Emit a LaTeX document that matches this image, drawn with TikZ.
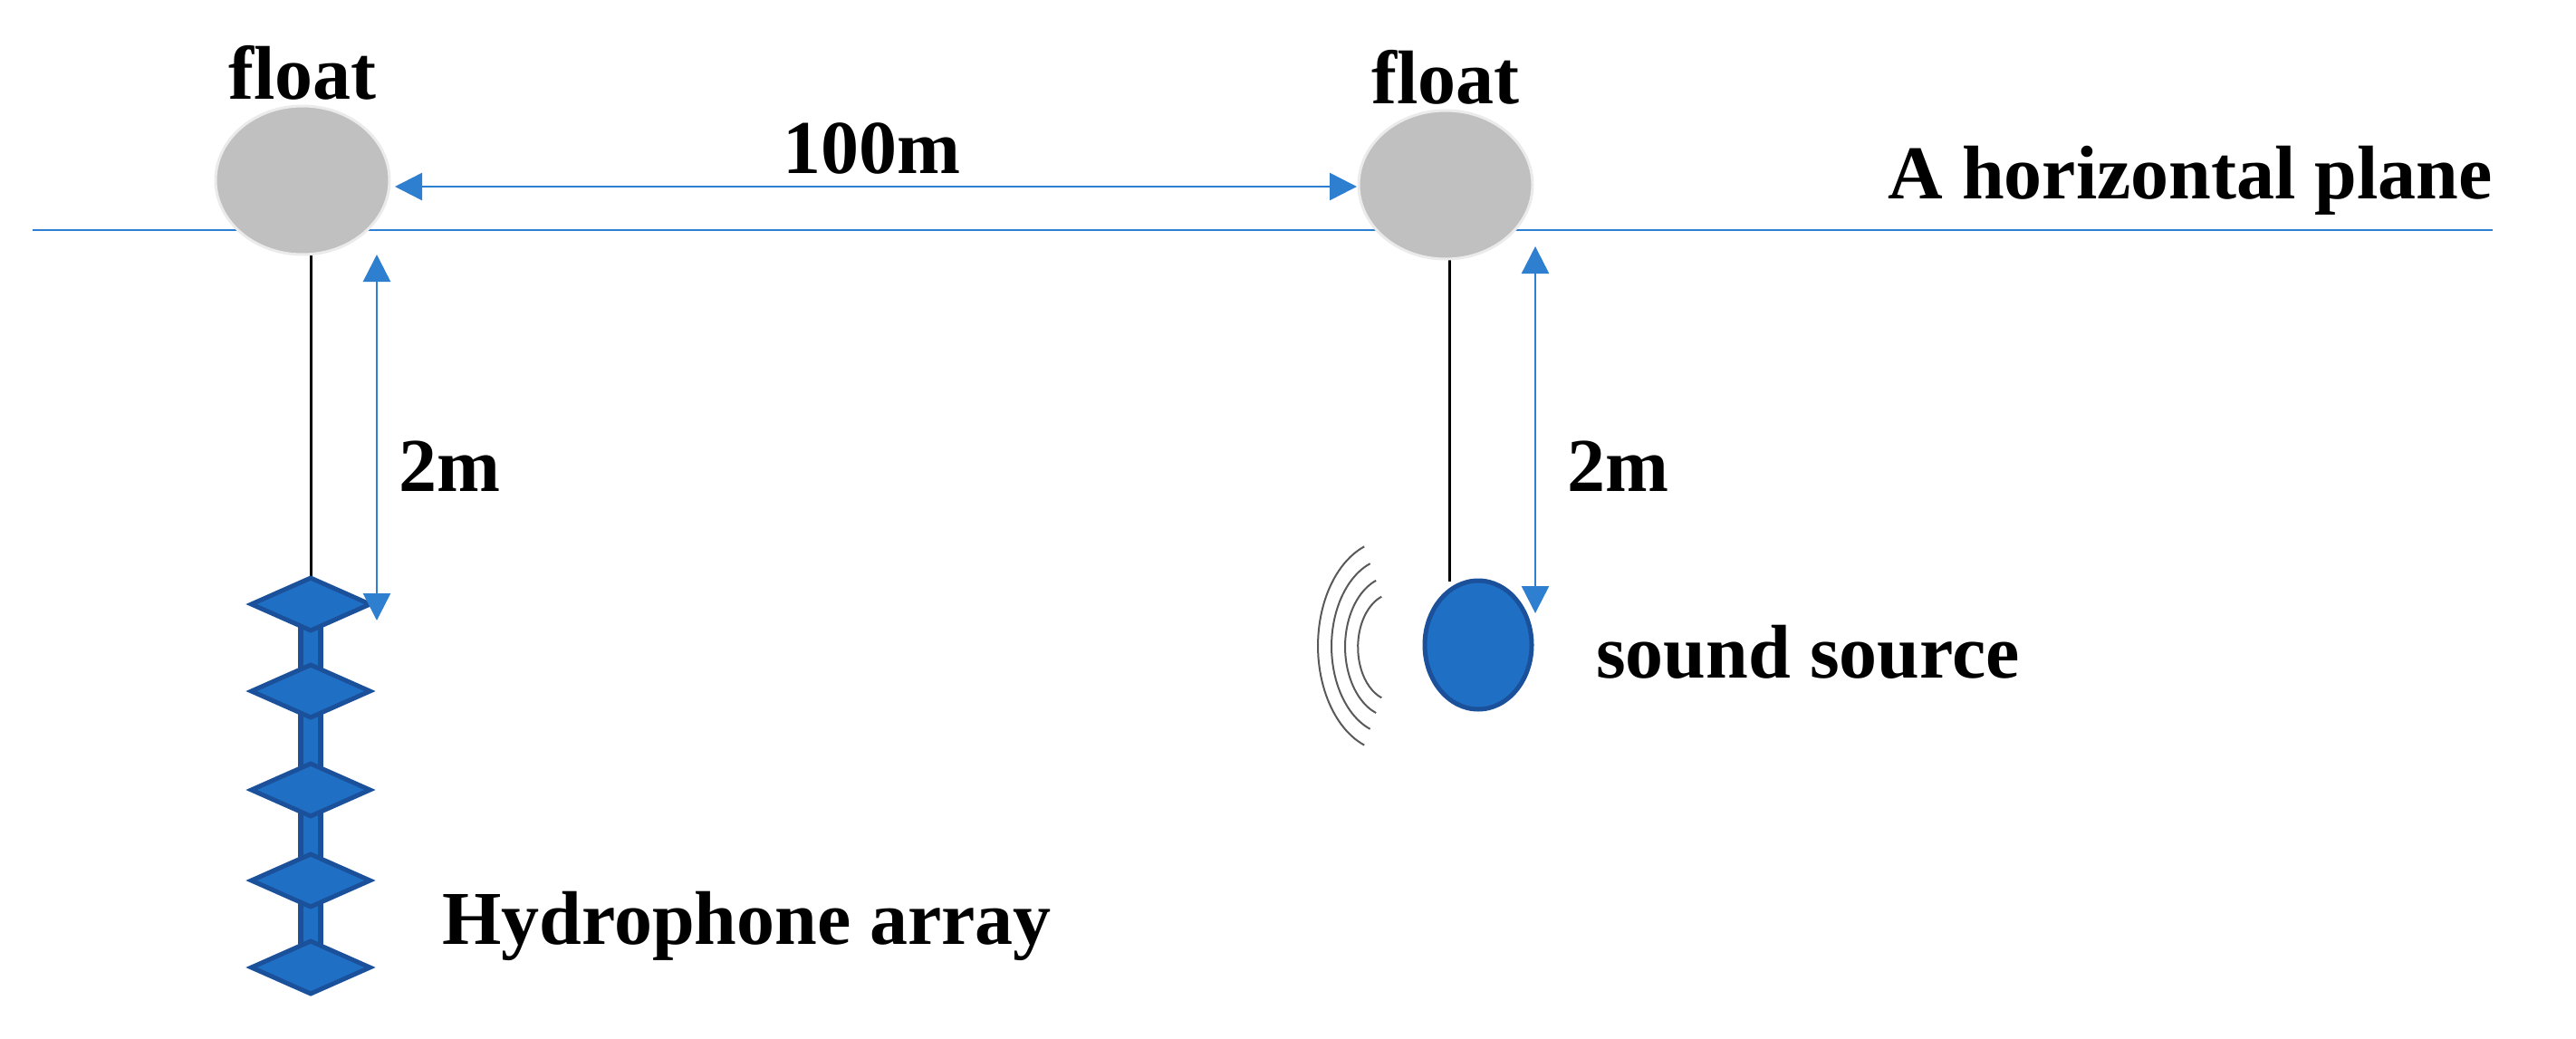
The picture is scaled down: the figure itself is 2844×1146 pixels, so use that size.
\documentclass[tikz,border=0pt]{standalone}
\usepackage{fontspec}
\setmainfont{Liberation Serif}
\usetikzlibrary{shapes.geometric,arrows.meta}
\definecolor{fillblue}{HTML}{1F6FC5}
\definecolor{edgeblue}{HTML}{1A519A}
\definecolor{lineblue}{HTML}{2F7FD0}
\definecolor{floatgray}{HTML}{C0C0C0}
\begin{document}
\begin{tikzpicture}[x=1pt,y=-1pt,
  lbl/.style={font=\fontsize{84}{90}\selectfont\bfseries, inner sep=0pt},
  floatbox/.style={ellipse, fill=floatgray, draw=white!92!black, line width=3pt, minimum width=192pt, minimum height=164pt},
  dia/.style={diamond, aspect=2.2, fill=fillblue, draw=edgeblue, line width=5pt, minimum width=133pt, minimum height=60pt, inner sep=0pt},
  dim/.style={lineblue, line width=2.5pt, {Triangle[length=30pt,width=30pt]}-{Triangle[length=30pt,width=30pt]}},
  wave/.style={gray!70!black, line width=2pt}]
\useasboundingbox (0,0) rectangle (2844,1146);
\coordinate (pl) at (36,254);
\coordinate (pr) at (2752,254);
\draw[lineblue, line width=2.5pt] (pl) -- (pr);
\coordinate (lt) at (343,281);
\coordinate (lb) at (343,640);
\coordinate (rt) at (1600,285);
\coordinate (rb) at (1600,642);
\draw[line width=3pt] (lt) -- (lb);
\draw[line width=3pt] (rt) -- (rb);
\node[floatbox] (f1) at (334,199) {};
\node[floatbox] (f2) at (1596,204) {};
\node[lbl] (t1) at (334,80) {float};
\node[lbl] (t2) at (1596,85) {float};
\foreach \i/\y in {1/667,2/763,3/872,4/972,5/1068}{\coordinate (d\i) at (343,\y);}
\foreach \a/\b in {d1/d2,d2/d3,d3/d4,d4/d5}{
  \fill[edgeblue] ([xshift=-14pt]\a) rectangle ([xshift=14pt]\b);
  \fill[fillblue] ([xshift=-8pt]\a) rectangle ([xshift=8pt]\b);}
\foreach \i in {1,...,5}{\node[dia] (n\i) at (d\i) {};}
\node[ellipse, fill=fillblue, draw=edgeblue, line width=5pt, minimum width=118pt, minimum height=142pt, inner sep=0pt] (src) at (1632,712) {};
\foreach \r in {55,72,90,108}{
  \draw[wave] (1545,716) ++(110:\r*1.05) arc[start angle=110,end angle=250,x radius=\r*0.72,y radius=\r*1.08];
}
\coordinate (a1) at (436,206);
\coordinate (a2) at (1498,206);
\draw[dim] (a1) -- (a2);
\coordinate (v1t) at (416,281);
\coordinate (v1b) at (416,685);
\draw[dim] (v1t) -- (v1b);
\coordinate (v2t) at (1695,272);
\coordinate (v2b) at (1695,677);
\draw[dim] (v2t) -- (v2b);
\node[lbl] (l100) at (962,164) {100m};
\node[lbl, anchor=west] (l2a) at (440,515) {2m};
\node[lbl, anchor=west] (l2b) at (1730,515) {2m};
\node[lbl, anchor=east] (hp) at (2752,199) {A horizontal plane};
\node[lbl, anchor=west] (ss) at (1762,720) {sound source};
\node[lbl, anchor=west] (ha) at (488,1022) {Hydrophone array};
\end{tikzpicture}
\end{document}
